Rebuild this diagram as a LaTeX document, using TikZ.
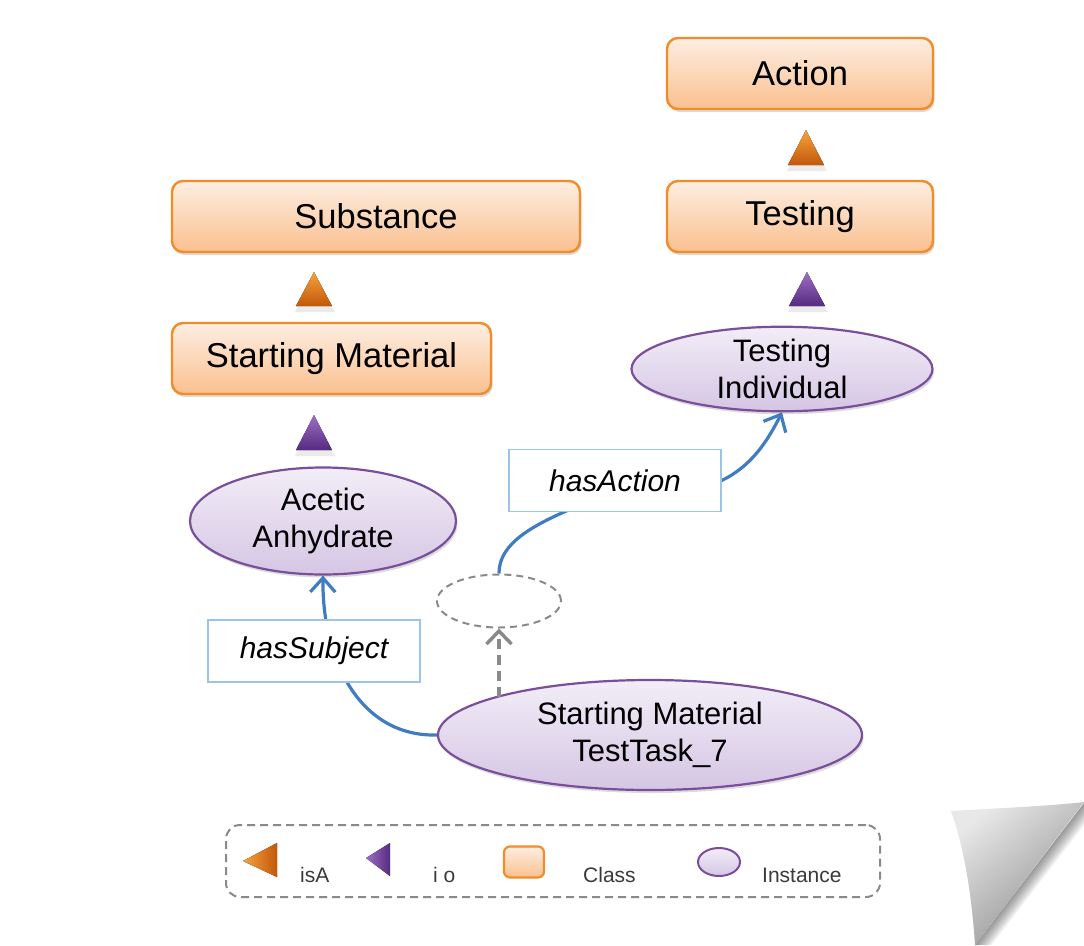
\documentclass[tikz,border=0pt]{standalone}
\usepackage{fontspec}
\setmainfont{Liberation Sans}
\usetikzlibrary{arrows.meta,shadows,shapes.geometric,calc,backgrounds}

\definecolor{clsborder}{HTML}{F28C28}
\definecolor{clstop}{HTML}{FDEEE2}
\definecolor{clsbot}{HTML}{FAC08F}
\definecolor{instborder}{HTML}{7B4E9C}
\definecolor{insttop}{HTML}{F2EDF7}
\definecolor{instbot}{HTML}{D5C6E4}
\definecolor{lblborder}{HTML}{9DC3E6}
\definecolor{relblue}{HTML}{3F7CC0}
\definecolor{isatop}{HTML}{F7A23E}
\definecolor{isabot}{HTML}{C2580A}
\definecolor{iotop}{HTML}{9D70C4}
\definecolor{iobot}{HTML}{562A80}
\definecolor{dashgray}{HTML}{8A8A8A}
\definecolor{legtext}{HTML}{3A3A3A}
\definecolor{curllight}{HTML}{E8E8E8}
\definecolor{curldark}{HTML}{8E8E8E}

\tikzset{
  softshadow/.style={drop shadow={shadow xshift=1.5pt, shadow yshift=-3pt, opacity=0.2, fill=black!70}},
  clsbox/.style={rectangle, rounded corners=11pt, draw=clsborder, line width=2.4pt,
    top color=clstop, bottom color=clsbot, minimum height=71pt, inner sep=0pt,
    font=\fontsize{34.5}{40}\selectfont, softshadow},
  instell/.style={ellipse, draw=instborder, line width=2.2pt,
    top color=insttop, bottom color=instbot, inner sep=0pt, align=center,
    font=\fontsize{31}{37}\selectfont, softshadow},
  lblbox/.style={rectangle, draw=lblborder, line width=1.2pt, fill=white,
    minimum width=212pt, minimum height=62pt, inner sep=0pt,
    font=\itshape\fontsize{30}{36}\selectfont},
  rel/.style={draw=relblue, line width=3.2pt},
  reltip/.style={-{Straight Barb[length=14pt,width=25pt,line width=3.2pt]}},
  isatri/.style={top color=isatop, bottom color=isabot, draw=none},
  iotri/.style={top color=iotop, bottom color=iobot, draw=none},
  triglow/.style={fill=black, opacity=0.08},
  legtxt/.style={font=\fontsize{21}{25}\selectfont, text=legtext, anchor=base west, inner sep=0pt},
}

\begin{document}
\begin{tikzpicture}[x=1pt, y=-1pt]
\useasboundingbox (0,0) rectangle (1084,945);
\clip (0,0) rectangle (1084,945);

% class boxes
\node[clsbox, minimum width=266pt] (action)    at (800,73.5)  {Action};
\node[clsbox, minimum width=266pt] (testing)   at (800,216.5) {Testing};
\node[clsbox, minimum width=408pt] (substance) at (376,216.5) {Substance};
\node[clsbox, minimum width=319pt] (startmat)  at (331.5,358.5) {Starting Material};

% instances
\node[instell, minimum width=301pt, minimum height=80pt] (testind) at (782,369) {Testing\\Individual};
\node[instell, minimum width=266pt, minimum height=107pt] (acetic) at (323,521) {Acetic\\Anhydrate};
\node[instell, minimum width=424pt, minimum height=110pt] (task) at (650,735) {Starting Material\\TestTask\_7};
\node[ellipse, draw=dashgray, line width=2pt, dash pattern=on 7pt off 5pt,
      minimum width=124pt, minimum height=53pt, inner sep=0pt] (blank) at (499,601) {};

% property labels
\node[lblbox] (hassubj) at (314,651) {hasSubject};
\node[lblbox] (hasact)  at (615,480.5) {hasAction};

% isA / instance-of markers
\fill[triglow] (806,134) -- (827,171) -- (787,171) -- cycle;
\fill[isatri]  (806,130) -- (824,165) -- (788,165) -- cycle;
\fill[triglow] (807,276) -- (828,312) -- (788,312) -- cycle;
\fill[iotri]   (807,272) -- (825,306) -- (789,306) -- cycle;
\fill[triglow] (314,276) -- (335,312) -- (295,312) -- cycle;
\fill[isatri]  (314,272) -- (332,306) -- (296,306) -- cycle;
\fill[triglow] (314,419) -- (335,456) -- (295,456) -- cycle;
\fill[iotri]   (314,415) -- (332,450) -- (296,450) -- cycle;

% relations, running behind the labels
\begin{pgfonlayer}{background}
\draw[rel, reltip] (task.west) .. controls (360,737) and (322,660) .. (acetic.south);
\draw[rel] (blank.north) .. controls (499,548) and (522,530) .. ($(hasact.south west)+(60,-2)$);
\draw[rel, reltip] (hasact.east) .. controls (752,466) and (768,440) .. (testind.south);
\end{pgfonlayer}
\draw[dashgray, line width=3.5pt, dash pattern=on 10pt off 6pt,
      -{Straight Barb[length=13pt,width=25pt,line width=3.5pt]}]
      (499,697) -- (blank.south);

% legend
\node[rectangle, draw=dashgray, line width=2pt, dash pattern=on 8pt off 5pt,
      rounded corners=14pt, minimum width=654pt, minimum height=72pt] (legend) at (553,861) {};
\fill[isatri, left color=isatop, right color=isabot] (243,861) -- (277,843) -- (277,877) -- cycle;
\node[legtxt] (lisa) at (300,882) {isA};
\fill[iotri, left color=iotop, right color=iobot] (366,858) -- (390,843) -- (390,876) -- cycle;
\node[legtxt] (lio) at (433,882) {i o};
\node[rectangle, rounded corners=6pt, draw=clsborder, line width=2.2pt,
      top color=clstop, bottom color=clsbot, minimum width=40pt, minimum height=31pt,
      inner sep=0pt] (lcls) at (524,862) {};
\node[legtxt] (lclass) at (583,882) {Class};
\node[ellipse, draw=instborder, line width=2pt, top color=insttop, bottom color=instbot,
      minimum width=42pt, minimum height=28pt, inner sep=0pt] (linst) at (719,862) {};
\node[legtxt] (linstance) at (762,882) {Instance};

% folded page corner: soft shadow beneath the fold, then the fold itself
\foreach \d in {1,2,...,14}{
  \fill[black, opacity=0.035] (1084,803) -- (975,945) -- (975+1.2*\d,945) -- (1084,803+1.6*\d) -- cycle;
}
\shade[top color=curllight, bottom color=curldark, shading angle=40]
  (951,811) .. controls (1000,808) and (1050,806) .. (1084,802)
  -- (975,945)
  .. controls (972,900) and (965,850) .. cycle;
\end{tikzpicture}
\end{document}
